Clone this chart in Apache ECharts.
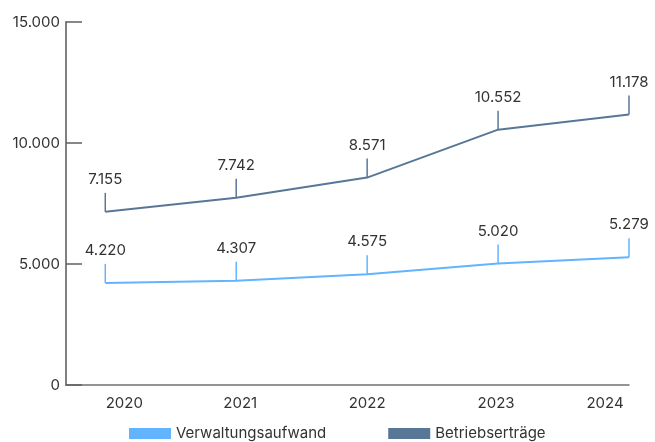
<!DOCTYPE html>
<html>
<head>
<meta charset="utf-8">
<script src="https://cdn.jsdelivr.net/npm/echarts@6/dist/echarts.min.js"></script>
<style>
  html, body { margin: 0; padding: 0; background: #fff; }
  #chart { width: 655px; height: 442px; }
</style>
</head>
<body>
<div id="chart"></div>
<script>
// Years and yearly totals
const years = [2020, 2021, 2022, 2023, 2024];
const verwaltungsaufwand = [4220, 4307, 4575, 5020, 5279];
const betriebsertraege = [7155, 7742, 8571, 10552, 11178];
const yTicks = [0, 5000, 10000, 15000];

// Horizontal nudge of each year label (px)
const yearLabelShift = [19, 4, 0, -2, -24];

const colorLight = '#62b4ff';
const colorDark = '#587797';
const textColor = '#333333';
const font = 'Inter, "Noto Sans", sans-serif';
const fontSize = 15;

function fmt(v) {
  return String(Math.round(v)).replace(/\B(?=(\d{3})+(?!\d))/g, '.');
}

function pairs(values) {
  return years.map((y, i) => [y, values[i]]);
}

// Short vertical leader from each point up to its value label, with the label on top
function leader(color) {
  return function (params, api) {
    const v = api.value(1);
    const p = api.coord([api.value(0), v]);
    return {
      type: 'group',
      children: [
        {
          type: 'line',
          shape: { x1: p[0], y1: p[1], x2: p[0], y2: p[1] - 19 },
          style: { stroke: color, lineWidth: 1.5 }
        },
        {
          type: 'text',
          x: p[0],
          y: p[1] - 25,
          style: {
            text: fmt(v),
            fill: textColor,
            font: fontSize + 'px ' + font,
            align: 'center',
            verticalAlign: 'bottom'
          }
        }
      ]
    };
  };
}

const rich = {};
yearLabelShift.forEach((s, i) => {
  rich['y' + i] = {
    fontFamily: font, fontSize: fontSize, color: textColor,
    padding: s >= 0 ? [0, 0, 0, 2 * s] : [0, -2 * s, 0, 0]
  };
});

const chart = echarts.init(document.getElementById('chart'));
chart.setOption({
  animation: false,
  textStyle: { fontFamily: font },
  grid: { left: 66, right: 26, top: 22, bottom: 57 },
  xAxis: {
    type: 'value',
    min: 2019.7,
    max: 2024,
    splitLine: { show: false },
    axisLine: { show: true, lineStyle: { color: '#707070', width: 1.5 } },
    axisTick: { show: false },
    axisLabel: {
      customValues: years,
      margin: 11,
      formatter: function (v) {
        const i = years.indexOf(Math.round(v));
        return '{y' + i + '|' + Math.round(v) + '}';
      },
      rich: rich
    }
  },
  yAxis: {
    type: 'value',
    min: yTicks[0],
    max: yTicks[yTicks.length - 1],
    interval: yTicks[1] - yTicks[0],
    splitLine: { show: false },
    axisLine: { show: true, lineStyle: { color: '#808080', width: 2 } },
    axisTick: { show: true, inside: true, length: 16, lineStyle: { color: '#606060', width: 1.5 } },
    axisLabel: {
      margin: 6,
      color: textColor,
      fontSize: fontSize,
      fontFamily: font,
      formatter: fmt
    }
  },
  legend: {
    data: ['Verwaltungsaufwand', 'Betriebserträge'],
    left: 124,
    top: 421,
    icon: 'rect',
    itemWidth: 42,
    itemHeight: 11,
    itemGap: 62,
    textStyle: { color: textColor, fontSize: fontSize, fontFamily: font }
  },
  series: [
    {
      name: 'Verwaltungsaufwand',
      type: 'line',
      data: pairs(verwaltungsaufwand),
      symbol: 'none',
      color: colorLight,
      lineStyle: { color: colorLight, width: 2 },
      itemStyle: { color: colorLight }
    },
    {
      name: 'Betriebserträge',
      type: 'line',
      data: pairs(betriebsertraege),
      symbol: 'none',
      color: colorDark,
      lineStyle: { color: colorDark, width: 2 },
      itemStyle: { color: colorDark }
    },
    {
      name: 'leaderLight',
      type: 'custom',
      data: pairs(verwaltungsaufwand),
      renderItem: leader(colorLight),
      clip: false,
      silent: true
    },
    {
      name: 'leaderDark',
      type: 'custom',
      data: pairs(betriebsertraege),
      renderItem: leader(colorDark),
      clip: false,
      silent: true
    }
  ]
});
</script>
</body>
</html>
